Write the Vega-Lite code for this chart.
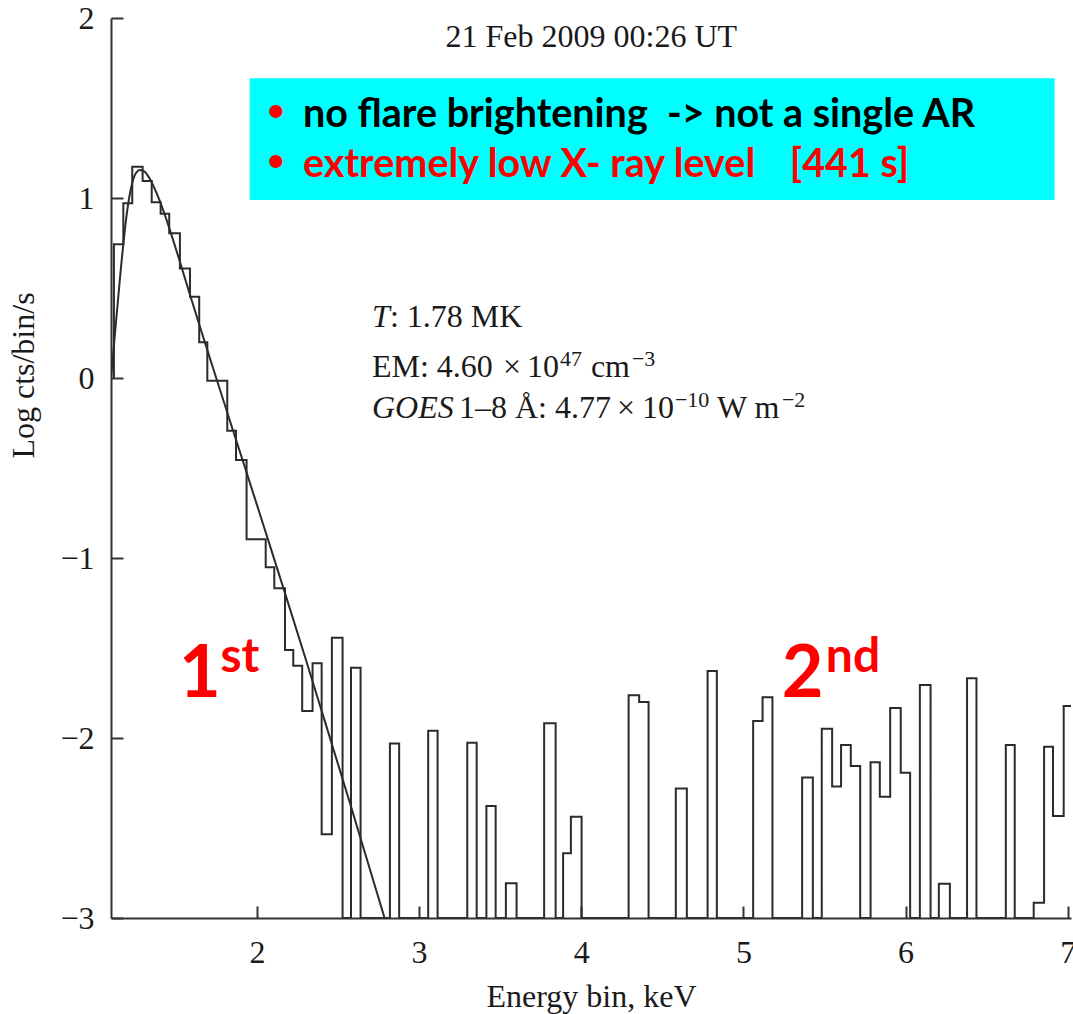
{
  "$schema": "https://vega.github.io/schema/vega-lite/v6.json",
  "width": 960,
  "height": 900,
  "autosize": {"type": "none"},
  "padding": {"left": 111, "top": 18, "right": 2, "bottom": 96},
  "background": "white",
  "config": {
    "view": {"stroke": null},
    "axis": {
      "grid": false,
      "domainColor": "#333333",
      "domainWidth": 2,
      "tickColor": "#333333",
      "tickWidth": 2,
      "tickSize": -12,
      "labelFont": "Liberation Serif",
      "labelFontSize": 32,
      "labelColor": "#1a1a1a",
      "titleFont": "Liberation Serif",
      "titleFontSize": 32,
      "titleFontWeight": "normal",
      "titleColor": "#1a1a1a"
    },
    "text": {"font": "Liberation Serif", "fontSize": 32, "align": "left", "baseline": "alphabetic", "color": "#1a1a1a"}
  },
  "layer": [
    {
      "data": {"values": [{}]},
      "mark": {"type": "rect", "color": "#00FFFF"},
      "encoding": {
        "x": {"datum": 1.955, "type": "quantitative", "scale": {"domain": [1.1, 7.02], "nice": false, "zero": false}},
        "x2": {"datum": 6.919},
        "y": {"datum": 1.665, "type": "quantitative", "scale": {"domain": [-3, 2], "nice": false, "zero": false}},
        "y2": {"datum": 0.989}
      }
    },
    {
      "data": {"values": [
        {"i": 0, "x": 1.118, "y": 0},
        {"i": 1, "x": 1.118, "y": 0.743},
        {"i": 2, "x": 1.176, "y": 0.971},
        {"i": 3, "x": 1.231, "y": 1.174},
        {"i": 4, "x": 1.295, "y": 1.094},
        {"i": 5, "x": 1.351, "y": 0.976},
        {"i": 6, "x": 1.406, "y": 0.912},
        {"i": 7, "x": 1.459, "y": 0.804},
        {"i": 8, "x": 1.525, "y": 0.609},
        {"i": 9, "x": 1.587, "y": 0.452},
        {"i": 10, "x": 1.644, "y": 0.198},
        {"i": 11, "x": 1.694, "y": -0.015},
        {"i": 12, "x": 1.817, "y": -0.293},
        {"i": 13, "x": 1.871, "y": -0.456},
        {"i": 14, "x": 1.936, "y": -0.896},
        {"i": 15, "x": 2.054, "y": -1.052},
        {"i": 16, "x": 2.107, "y": -1.168},
        {"i": 17, "x": 2.173, "y": -1.511},
        {"i": 18, "x": 2.224, "y": -1.598},
        {"i": 19, "x": 2.279, "y": -1.85},
        {"i": 20, "x": 2.343, "y": -1.585},
        {"i": 21, "x": 2.399, "y": -2.535},
        {"i": 22, "x": 2.462, "y": -1.443},
        {"i": 23, "x": 2.528, "y": -3},
        {"i": 24, "x": 2.58, "y": -1.61},
        {"i": 25, "x": 2.639, "y": -3},
        {"i": 26, "x": 2.82, "y": -2.03},
        {"i": 27, "x": 2.877, "y": -3},
        {"i": 28, "x": 3.056, "y": -1.96},
        {"i": 29, "x": 3.114, "y": -3},
        {"i": 30, "x": 3.297, "y": -2.026},
        {"i": 31, "x": 3.355, "y": -3},
        {"i": 32, "x": 3.415, "y": -2.378},
        {"i": 33, "x": 3.472, "y": -3},
        {"i": 34, "x": 3.535, "y": -2.807},
        {"i": 35, "x": 3.601, "y": -3},
        {"i": 36, "x": 3.771, "y": -1.918},
        {"i": 37, "x": 3.842, "y": -3},
        {"i": 38, "x": 3.888, "y": -2.64},
        {"i": 39, "x": 3.936, "y": -2.437},
        {"i": 40, "x": 4.002, "y": -3},
        {"i": 41, "x": 4.292, "y": -1.763},
        {"i": 42, "x": 4.357, "y": -1.8},
        {"i": 43, "x": 4.415, "y": -3},
        {"i": 44, "x": 4.583, "y": -2.28},
        {"i": 45, "x": 4.651, "y": -3},
        {"i": 46, "x": 4.779, "y": -1.628},
        {"i": 47, "x": 4.836, "y": -3},
        {"i": 48, "x": 5.06, "y": -1.906},
        {"i": 49, "x": 5.118, "y": -1.774},
        {"i": 50, "x": 5.179, "y": -3},
        {"i": 51, "x": 5.362, "y": -2.22},
        {"i": 52, "x": 5.428, "y": -3},
        {"i": 53, "x": 5.483, "y": -1.948},
        {"i": 54, "x": 5.547, "y": -2.27},
        {"i": 55, "x": 5.602, "y": -2.039},
        {"i": 56, "x": 5.662, "y": -2.156},
        {"i": 57, "x": 5.72, "y": -3},
        {"i": 58, "x": 5.784, "y": -2.135},
        {"i": 59, "x": 5.841, "y": -2.326},
        {"i": 60, "x": 5.905, "y": -1.833},
        {"i": 61, "x": 5.97, "y": -2.193},
        {"i": 62, "x": 6.028, "y": -3},
        {"i": 63, "x": 6.088, "y": -1.706},
        {"i": 64, "x": 6.154, "y": -3},
        {"i": 65, "x": 6.205, "y": -2.81},
        {"i": 66, "x": 6.273, "y": -3},
        {"i": 67, "x": 6.379, "y": -1.668},
        {"i": 68, "x": 6.437, "y": -3},
        {"i": 69, "x": 6.618, "y": -2.039},
        {"i": 70, "x": 6.673, "y": -3},
        {"i": 71, "x": 6.79, "y": -2.915},
        {"i": 72, "x": 6.854, "y": -2.048},
        {"i": 73, "x": 6.909, "y": -2.433},
        {"i": 74, "x": 6.975, "y": -1.822},
        {"i": 75, "x": 7.1, "y": -1.822}
      ]},
      "mark": {"type": "line", "interpolate": "step-after", "strokeWidth": 2, "color": "#2b2b2b", "clip": true},
      "encoding": {
        "x": {
          "field": "x",
          "type": "quantitative",
          "scale": {"domain": [1.1, 7.02], "nice": false, "zero": false},
          "axis": {
            "values": [2, 3, 4, 5, 6, 7],
            "format": "d",
            "title": "Energy bin, keV",
            "labelPadding": 31,
            "labelFlush": false,
            "labelOverlap": false,
            "titleBaseline": "alphabetic",
            "titleY": 88
          }
        },
        "y": {
          "field": "y",
          "type": "quantitative",
          "scale": {"domain": [-3, 2], "nice": false, "zero": false},
          "axis": {
            "values": [-3, -2, -1, 0, 1, 2],
            "format": "d",
            "title": "Log cts/bin/s",
            "labelPadding": 29,
            "labelFlush": false,
            "titleAngle": 270,
            "titleBaseline": "bottom",
            "titleAlign": "center",
            "titleX": -71,
            "titleY": 357
          }
        },
        "order": {"field": "i", "type": "quantitative"}
      }
    },
    {
      "data": {"values": [
        {"x": 1.1, "y": 0},
        {"x": 1.12, "y": 0.2},
        {"x": 1.16, "y": 0.6},
        {"x": 1.2, "y": 0.93},
        {"x": 1.23, "y": 1.08},
        {"x": 1.255, "y": 1.14},
        {"x": 1.279, "y": 1.156},
        {"x": 1.31, "y": 1.144},
        {"x": 1.34, "y": 1.105},
        {"x": 1.4, "y": 0.985},
        {"x": 1.464, "y": 0.82},
        {"x": 1.525, "y": 0.645},
        {"x": 1.587, "y": 0.463},
        {"x": 1.649, "y": 0.283},
        {"x": 1.71, "y": 0.11},
        {"x": 1.772, "y": -0.065},
        {"x": 1.85, "y": -0.285},
        {"x": 1.938, "y": -0.53},
        {"x": 2.062, "y": -0.88},
        {"x": 2.173, "y": -1.195},
        {"x": 2.3, "y": -1.56},
        {"x": 2.401, "y": -1.855},
        {"x": 2.573, "y": -2.36},
        {"x": 2.787, "y": -3.0}
      ]},
      "mark": {"type": "line", "interpolate": "monotone", "strokeWidth": 2, "color": "#2b2b2b", "clip": true},
      "encoding": {
        "x": {"field": "x", "type": "quantitative", "title": "Energy bin, keV"},
        "y": {"field": "y", "type": "quantitative", "title": "Log cts/bin/s"}
      }
    },
    {
      "data": {"values": [{}]},
      "mark": {"type": "text", "text": "21 Feb 2009 00:26 UT", "align": "center"},
      "encoding": {"x": {"datum": 4.062}, "y": {"datum": 1.839}}
    },
    {
      "data": {"values": [{}]},
      "mark": {"type": "text", "text": "•", "font": "Liberation Sans", "fontSize": 48, "align": "center", "color": "#FF0000"},
      "encoding": {"x": {"datum": 2.117}, "y": {"datum": 1.394}}
    },
    {
      "data": {"values": [{}]},
      "mark": {"type": "text", "text": "•", "font": "Liberation Sans", "fontSize": 48, "align": "center", "color": "#FF0000"},
      "encoding": {"x": {"datum": 2.117}, "y": {"datum": 1.117}}
    },
    {
      "data": {"values": [{}]},
      "mark": {"type": "text", "text": "no flare brightening", "font": "Lato", "fontWeight": "bold", "fontSize": 39.5, "color": "#000000"},
      "encoding": {"x": {"datum": 2.284}, "y": {"datum": 1.394}}
    },
    {
      "data": {"values": [{}]},
      "mark": {"type": "text", "text": "-> not a single AR", "font": "Lato", "fontWeight": "bold", "fontSize": 39.5, "color": "#000000"},
      "encoding": {"x": {"datum": 4.528}, "y": {"datum": 1.394}}
    },
    {
      "data": {"values": [{}]},
      "mark": {"type": "text", "text": "extremely low X- ray level", "font": "Lato", "fontWeight": "bold", "fontSize": 39.5, "color": "#FF0000"},
      "encoding": {"x": {"datum": 2.284}, "y": {"datum": 1.117}}
    },
    {
      "data": {"values": [{}]},
      "mark": {"type": "text", "text": "[441 s]", "font": "Lato", "fontWeight": "bold", "fontSize": 39.5, "color": "#FF0000"},
      "encoding": {"x": {"datum": 5.286}, "y": {"datum": 1.117}}
    },
    {
      "data": {"values": [{}]},
      "mark": {"type": "text", "text": "T", "fontStyle": "italic"},
      "encoding": {"x": {"datum": 2.709}, "y": {"datum": 0.283}}
    },
    {
      "data": {"values": [{}]},
      "mark": {"type": "text", "text": ": 1.78 MK", "dx": 18},
      "encoding": {"x": {"datum": 2.709}, "y": {"datum": 0.283}}
    },
    {
      "data": {"values": [{}]},
      "mark": {"type": "text", "text": "EM: 4.60"},
      "encoding": {"x": {"datum": 2.709}, "y": {"datum": 0.006}}
    },
    {
      "data": {"values": [{}]},
      "mark": {"type": "text", "text": "×", "dx": 131},
      "encoding": {"x": {"datum": 2.709}, "y": {"datum": 0.006}}
    },
    {
      "data": {"values": [{}]},
      "mark": {"type": "text", "text": "10", "dx": 155},
      "encoding": {"x": {"datum": 2.709}, "y": {"datum": 0.006}}
    },
    {
      "data": {"values": [{}]},
      "mark": {"type": "text", "text": "47", "fontSize": 22, "dx": 188, "dy": -11},
      "encoding": {"x": {"datum": 2.709}, "y": {"datum": 0.006}}
    },
    {
      "data": {"values": [{}]},
      "mark": {"type": "text", "text": "cm", "dx": 219},
      "encoding": {"x": {"datum": 2.709}, "y": {"datum": 0.006}}
    },
    {
      "data": {"values": [{}]},
      "mark": {"type": "text", "text": "−3", "fontSize": 22, "dx": 260, "dy": -11},
      "encoding": {"x": {"datum": 2.709}, "y": {"datum": 0.006}}
    },
    {
      "data": {"values": [{}]},
      "mark": {"type": "text", "text": "GOES", "fontStyle": "italic"},
      "encoding": {"x": {"datum": 2.709}, "y": {"datum": -0.222}}
    },
    {
      "data": {"values": [{}]},
      "mark": {"type": "text", "text": "1–8 Å: 4.77", "dx": 87},
      "encoding": {"x": {"datum": 2.709}, "y": {"datum": -0.222}}
    },
    {
      "data": {"values": [{}]},
      "mark": {"type": "text", "text": "×", "dx": 245},
      "encoding": {"x": {"datum": 2.709}, "y": {"datum": -0.222}}
    },
    {
      "data": {"values": [{}]},
      "mark": {"type": "text", "text": "10", "dx": 270},
      "encoding": {"x": {"datum": 2.709}, "y": {"datum": -0.222}}
    },
    {
      "data": {"values": [{}]},
      "mark": {"type": "text", "text": "−10", "fontSize": 22, "dx": 303, "dy": -11},
      "encoding": {"x": {"datum": 2.709}, "y": {"datum": -0.222}}
    },
    {
      "data": {"values": [{}]},
      "mark": {"type": "text", "text": "W m", "dx": 345},
      "encoding": {"x": {"datum": 2.709}, "y": {"datum": -0.222}}
    },
    {
      "data": {"values": [{}]},
      "mark": {"type": "text", "text": "−2", "fontSize": 22, "dx": 410, "dy": -11},
      "encoding": {"x": {"datum": 2.709}, "y": {"datum": -0.222}}
    },
    {
      "data": {"values": [{}]},
      "mark": {"type": "text", "text": "1", "font": "Lato", "fontWeight": "bold", "fontSize": 72, "color": "#FF0000"},
      "encoding": {"x": {"datum": 1.52}, "y": {"datum": -1.772}}
    },
    {
      "data": {"values": [{}]},
      "mark": {"type": "text", "text": "st", "font": "Lato", "fontWeight": "bold", "fontSize": 48, "color": "#FF0000"},
      "encoding": {"x": {"datum": 1.775}, "y": {"datum": -1.633}}
    },
    {
      "data": {"values": [{}]},
      "mark": {"type": "text", "text": "2", "font": "Lato", "fontWeight": "bold", "fontSize": 72, "color": "#FF0000"},
      "encoding": {"x": {"datum": 5.237}, "y": {"datum": -1.772}}
    },
    {
      "data": {"values": [{}]},
      "mark": {"type": "text", "text": "nd", "font": "Lato", "fontWeight": "bold", "fontSize": 48, "color": "#FF0000"},
      "encoding": {"x": {"datum": 5.508}, "y": {"datum": -1.633}}
    }
  ]
}
